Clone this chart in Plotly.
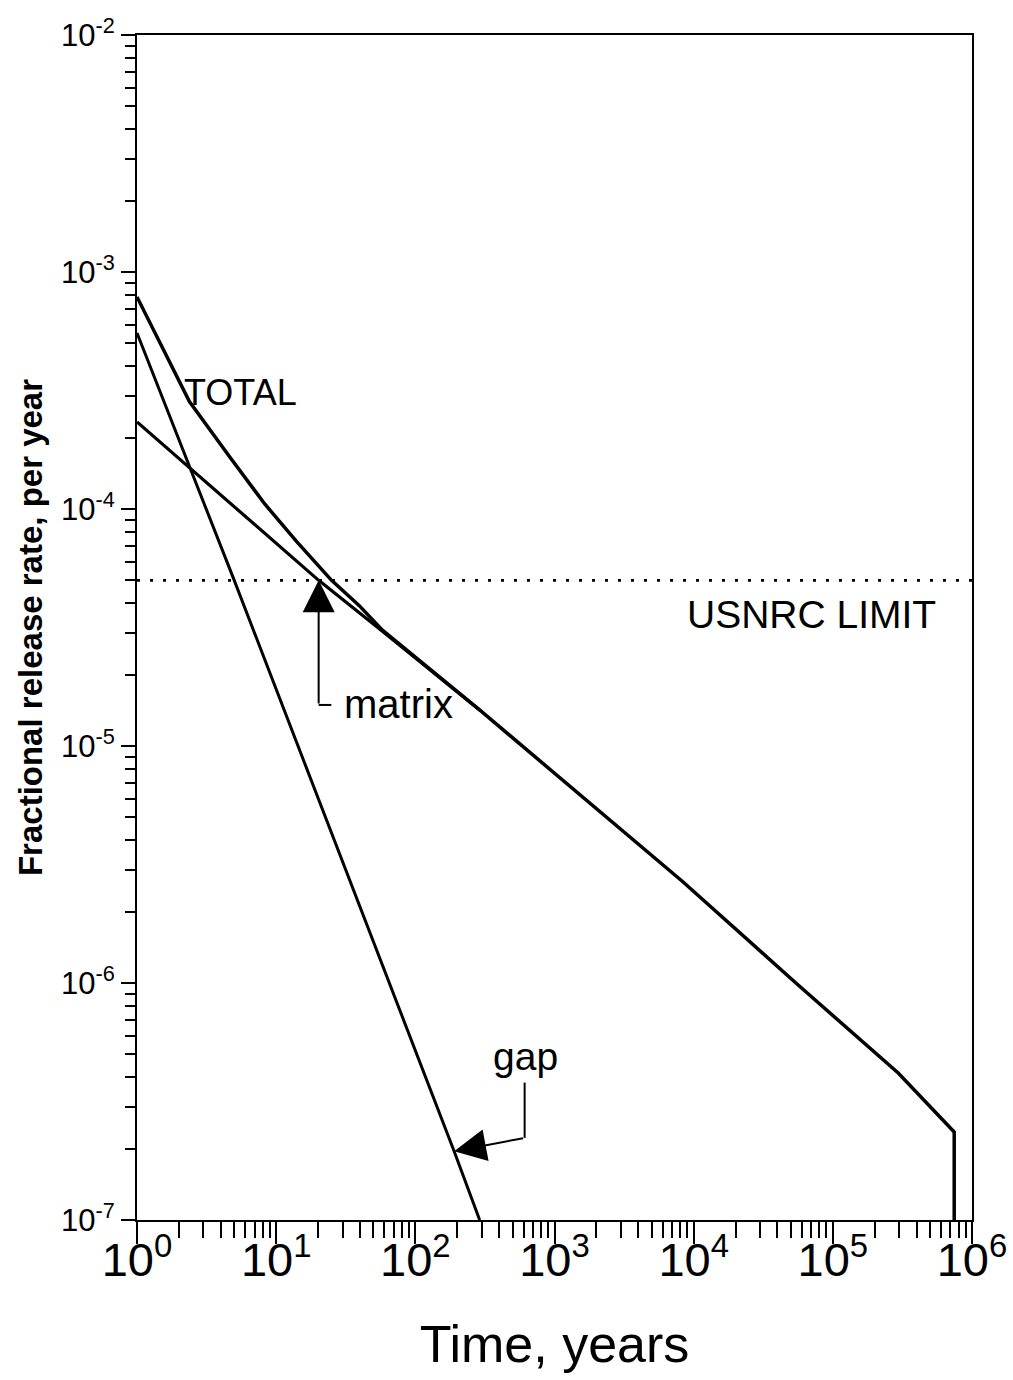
import math
import plotly.graph_objects as go

# ---- data ----
total_t = [1.0, 1.5, 2.38, 4.67, 8.28, 14.0, 25.0, 39.4, 58.0, 294.0, 8320.0, 55300.0, 295000.0, 745000.0, 745000.0]
total_r = [7.85e-4, 4.85e-4, 2.84e-4, 1.65e-4, 1.05e-4, 7.3e-5, 5.0e-5, 3.92e-5, 3.08e-5, 1.41e-5, 2.68e-6, 9.9e-7, 4.17e-7, 2.35e-7, 1.0e-7]

matrix_t = [1.0, 2.37, 20.2, 58.0, 294.0]
matrix_r = [2.33e-4, 1.50e-4, 5.0e-5, 3.05e-5, 1.41e-5]

gap_t = [1.0, 4.95, 190.0, 290.0]
gap_r = [5.53e-4, 5.07e-5, 1.95e-7, 1.0e-7]

limit_t = [1.0, 1.0e6]
limit_r = [5.0e-5, 5.0e-5]

x_tick_vals = [1, 10, 100, 1000, 10000, 100000, 1000000]
x_tick_text = ["10<sup>0</sup>", "10<sup>1</sup>", "10<sup>2</sup>", "10<sup>3</sup>",
               "10<sup>4</sup>", "10<sup>5</sup>", "10<sup>6</sup>"]
y_tick_vals = [1e-7, 1e-6, 1e-5, 1e-4, 1e-3, 1e-2]
y_tick_text = ["10<sup>-7</sup>", "10<sup>-6</sup>", "10<sup>-5</sup>", "10<sup>-4</sup>",
               "10<sup>-3</sup>", "10<sup>-2</sup>"]

# annotation anchors (data values)
matrix_arrow_tip = (20.2, 5.0e-5)
matrix_arrow_tail = (20.2, 1.49e-5)
matrix_hook_end = 24.9
gap_arrow_tip = (190.0, 1.95e-7)
gap_arrow_tail = (610.0, 2.22e-7)
gap_leader_top = 3.8e-7

FONT = "Liberation Sans, Arial, Helvetica, sans-serif"
L = math.log10

fig = go.Figure()

fig.add_trace(go.Scatter(x=limit_t, y=limit_r, mode="lines",
                         line=dict(color="black", width=2.6, dash="3px,10px"),
                         showlegend=False, hoverinfo="skip"))
fig.add_trace(go.Scatter(x=gap_t, y=gap_r, mode="lines", name="gap",
                         line=dict(color="black", width=3), showlegend=False))
fig.add_trace(go.Scatter(x=matrix_t, y=matrix_r, mode="lines", name="matrix",
                         line=dict(color="black", width=3.2), showlegend=False))
fig.add_trace(go.Scatter(x=total_t, y=total_r, mode="lines", name="TOTAL",
                         line=dict(color="black", width=3.5), showlegend=False))

# leader lines
fig.add_trace(go.Scatter(x=[matrix_arrow_tail[0], matrix_hook_end],
                         y=[matrix_arrow_tail[1], matrix_arrow_tail[1]],
                         mode="lines", line=dict(color="black", width=2),
                         showlegend=False, hoverinfo="skip"))
fig.add_trace(go.Scatter(x=[gap_arrow_tail[0], gap_arrow_tail[0]],
                         y=[gap_arrow_tail[1], gap_leader_top],
                         mode="lines", line=dict(color="black", width=2),
                         showlegend=False, hoverinfo="skip"))

# arrows
fig.add_annotation(x=L(matrix_arrow_tip[0]), y=L(matrix_arrow_tip[1]),
                   ax=L(matrix_arrow_tail[0]), ay=L(matrix_arrow_tail[1]),
                   axref="x", ayref="y", xref="x", yref="y", text="",
                   showarrow=True, arrowhead=2, arrowsize=3.2, arrowwidth=2,
                   arrowcolor="black", standoff=0)
fig.add_annotation(x=L(gap_arrow_tip[0]), y=L(gap_arrow_tip[1]),
                   ax=L(gap_arrow_tail[0]), ay=L(gap_arrow_tail[1]),
                   axref="x", ayref="y", xref="x", yref="y", text="",
                   showarrow=True, arrowhead=2, arrowsize=3.2, arrowwidth=2,
                   arrowcolor="black", standoff=0)

# text labels
fig.add_annotation(x=L(2.1), y=L(3.1e-4), xref="x", yref="y", text="TOTAL",
                   showarrow=False, xanchor="left", yanchor="middle",
                   font=dict(family=FONT, size=36, color="black"))
fig.add_annotation(x=L(8.6e3), y=L(3.6e-5), xref="x", yref="y", text="USNRC LIMIT",
                   showarrow=False, xanchor="left", yanchor="middle",
                   font=dict(family=FONT, size=39, color="black"))
fig.add_annotation(x=L(29.5), y=L(1.5e-5), xref="x", yref="y", text="matrix",
                   showarrow=False, xanchor="left", yanchor="middle",
                   font=dict(family=FONT, size=40, color="black"))
fig.add_annotation(x=L(350), y=L(4.9e-7), xref="x", yref="y", text="gap",
                   showarrow=False, xanchor="left", yanchor="middle",
                   font=dict(family=FONT, size=39, color="black"))

fig.update_xaxes(type="log", range=[0, 6], showgrid=False, zeroline=False,
                 showline=True, linecolor="black", linewidth=2, mirror=True,
                 ticks="outside", ticklen=22, tickwidth=2, tickcolor="black",
                 tickmode="array", tickvals=x_tick_vals, ticktext=x_tick_text,
                 ticklabelstandoff=-24,
                 tickfont=dict(family=FONT, size=47, color="black"),
                 minor=dict(dtick="D1", ticks="outside", ticklen=16, tickwidth=2,
                            tickcolor="black", showgrid=False),
                 title=dict(text="Time, years", standoff=40,
                            font=dict(family=FONT, size=52, color="black")))
fig.update_yaxes(type="log", range=[-7, -2], showgrid=False, zeroline=False,
                 showline=True, linecolor="black", linewidth=2, mirror=True,
                 ticks="outside", ticklen=14, tickwidth=2, tickcolor="black",
                 tickmode="array", tickvals=y_tick_vals, ticktext=y_tick_text,
                 tickfont=dict(family=FONT, size=31, color="black"),
                 minor=dict(dtick="D1", ticks="outside", ticklen=10, tickwidth=2,
                            tickcolor="black", showgrid=False),
                 title=dict(text="<b>Fractional release rate, per year</b>", standoff=8,
                            font=dict(family=FONT, size=33, color="black")))

fig.update_layout(width=1013, height=1380,
                  margin=dict(l=137, r=41, t=35, b=160, autoexpand=False),
                  plot_bgcolor="white", paper_bgcolor="white", showlegend=False)

fig.write_html("out.html", config={"displayModeBar": False},
               post_script="document.body.style.margin='0px';")
